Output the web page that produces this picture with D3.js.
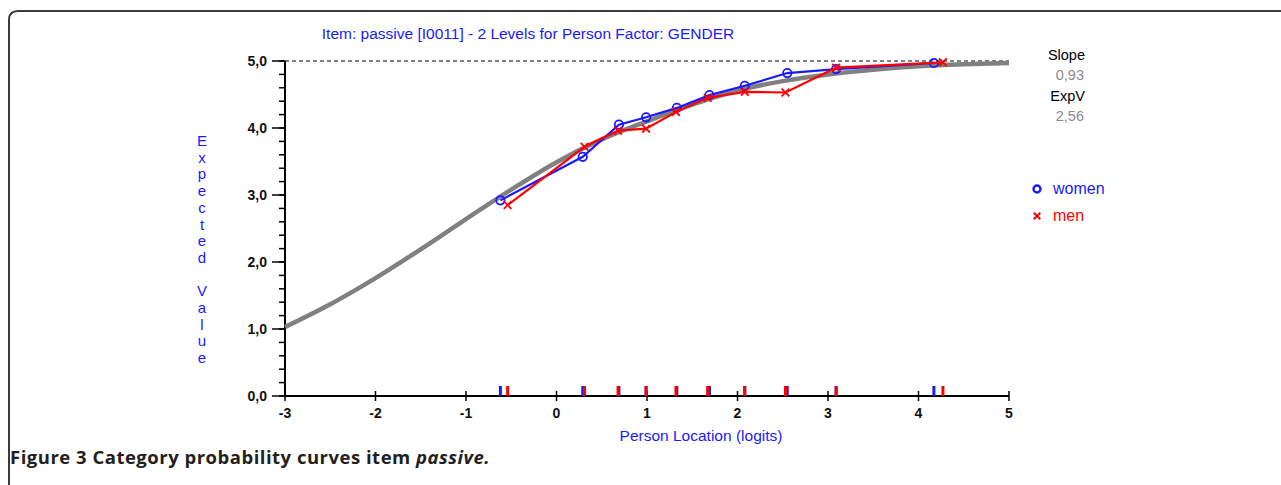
<!DOCTYPE html>
<html>
<head>
<meta charset="utf-8">
<script src="https://cdn.jsdelivr.net/npm/d3@7"></script>
<style>
  body { margin: 0; background: #fff; }
  svg { display: block; font-family: "Liberation Sans", Arial, sans-serif; }
</style>
</head>
<body>
<svg id="chart" width="1281" height="485"></svg>
<script>
// expected value curve (model)
const curveLoc = [-3, -2.5, -2, -1.5, -1, -0.5, 0, 0.5, 1, 1.5, 2, 2.5, 3, 3.5, 4, 4.5, 5];
const curveVal = [1.03, 1.37, 1.76, 2.19, 2.64, 3.08, 3.49, 3.83, 4.1, 4.35, 4.56, 4.7, 4.8, 4.87, 4.92, 4.95, 4.97];

// observed class interval means
const womenLoc = [-0.62, 0.29, 0.69, 0.99, 1.33, 1.69, 2.08, 2.55, 3.09, 4.17];
const womenVal = [2.92, 3.57, 4.05, 4.16, 4.3, 4.49, 4.63, 4.82, 4.88, 4.97];
const menLoc = [-0.54, 0.31, 0.68, 0.99, 1.32, 1.67, 2.08, 2.53, 3.09, 4.27];
const menVal = [2.85, 3.72, 3.96, 3.99, 4.24, 4.45, 4.54, 4.53, 4.9, 4.98];

const xTicks = [-3, -2, -1, 0, 1, 2, 3, 4, 5];
const yTicks = [0, 1, 2, 3, 4, 5];
const groups = ["women", "men"];
const stats = [["Slope", "0,93"], ["ExpV", "2,56"]];

const blue = "#1a1aff", red = "#ff0000", grey = "#808080";

const svg = d3.select("#chart");

// frame (only top and left edges visible)
svg.append("path")
    .attr("d", "M9,485 V20 Q9,11 18,11 H1281")
    .attr("fill", "none")
    .attr("stroke", "#3a3a3a")
    .attr("stroke-width", 2);

const x = d3.scaleLinear().domain([-3, 5]).range([285, 1009]);
const y = d3.scaleLinear().domain([0, 5]).range([396, 61]);

// title
svg.append("text")
    .attr("x", 528).attr("y", 39)
    .attr("text-anchor", "middle")
    .attr("fill", blue)
    .style("font-size", "15.5px")
    .text("Item: passive [I0011] - 2 Levels for Person Factor: GENDER");

// dashed line at max
svg.append("line")
    .attr("x1", x(-3)).attr("x2", x(5))
    .attr("y1", y(5)).attr("y2", y(5))
    .attr("stroke", "#000")
    .attr("stroke-dasharray", "4,3");

// y axis with minor ticks
const yMinor = d3.range(0, 5.01, 0.2);
const yAxis = svg.append("g");
yAxis.append("line")
    .attr("x1", x(-3)).attr("x2", x(-3))
    .attr("y1", y(0)).attr("y2", y(5))
    .attr("stroke", "#000").attr("stroke-width", 2);
yAxis.selectAll(".minor")
    .data(yMinor)
    .enter().append("line")
    .attr("x1", x(-3) - 6).attr("x2", x(-3))
    .attr("y1", d => y(d)).attr("y2", d => y(d))
    .attr("stroke", "#000").attr("stroke-width", 1.5);
yAxis.selectAll(".major")
    .data(yTicks)
    .enter().append("line")
    .attr("x1", x(-3) - 13).attr("x2", x(-3))
    .attr("y1", d => y(d)).attr("y2", d => y(d))
    .attr("stroke", "#000").attr("stroke-width", 1.5);
yAxis.selectAll("text")
    .data(yTicks)
    .enter().append("text")
    .attr("x", 267)
    .attr("y", d => y(d) + 5)
    .attr("text-anchor", "end")
    .style("font-size", "14px")
    .style("font-weight", "bold")
    .attr("fill", "#111")
    .text(d => d.toFixed(1).replace(".", ","));

// x axis
const xAxis = svg.append("g");
xAxis.append("line")
    .attr("x1", x(-3)).attr("x2", x(5))
    .attr("y1", y(0)).attr("y2", y(0))
    .attr("stroke", "#000").attr("stroke-width", 2);
xAxis.selectAll(".tick")
    .data(xTicks)
    .enter().append("line")
    .attr("x1", d => x(d)).attr("x2", d => x(d))
    .attr("y1", y(0) - 5).attr("y2", y(0) + 5)
    .attr("stroke", "#000").attr("stroke-width", 1.5);
xAxis.selectAll("text")
    .data(xTicks)
    .enter().append("text")
    .attr("x", d => x(d))
    .attr("y", y(0) + 22)
    .attr("text-anchor", "middle")
    .style("font-size", "14px")
    .style("font-weight", "bold")
    .attr("fill", "#111")
    .text(d => d);

svg.append("text")
    .attr("x", 701).attr("y", 441)
    .attr("text-anchor", "middle")
    .attr("fill", blue)
    .style("font-size", "15.5px")
    .text("Person Location (logits)");

// vertical y label, one letter per row
const yLabel = "Expected Value".split("");
svg.append("g").selectAll("text")
    .data(yLabel)
    .enter().append("text")
    .attr("x", 202)
    .attr("y", (d, i) => 146 + i * 16.7)
    .attr("text-anchor", "middle")
    .attr("fill", blue)
    .style("font-size", "15px")
    .text(d => d);

// rug of class interval locations
svg.append("g").selectAll("line")
    .data(womenLoc)
    .enter().append("line")
    .attr("x1", d => x(d)).attr("x2", d => x(d))
    .attr("y1", y(0) - 10).attr("y2", y(0))
    .attr("stroke", blue).attr("stroke-width", 3);
svg.append("g").selectAll("line")
    .data(menLoc)
    .enter().append("line")
    .attr("x1", d => x(d)).attr("x2", d => x(d))
    .attr("y1", y(0) - 10).attr("y2", y(0))
    .attr("stroke", red).attr("stroke-width", 3);

// model curve
const line = d3.line().x(d => x(d[0])).y(d => y(d[1]));
svg.append("path")
    .datum(d3.zip(curveLoc, curveVal))
    .attr("d", line.curve(d3.curveCatmullRom))
    .attr("fill", "none")
    .attr("stroke", grey)
    .attr("stroke-width", 4.5);

const straight = d3.line().x(d => x(d[0])).y(d => y(d[1]));

// women
const women = d3.zip(womenLoc, womenVal);
svg.append("path")
    .datum(women)
    .attr("d", straight)
    .attr("fill", "none")
    .attr("stroke", blue)
    .attr("stroke-width", 2.2);
svg.append("g").selectAll("circle")
    .data(women)
    .enter().append("circle")
    .attr("cx", d => x(d[0])).attr("cy", d => y(d[1]))
    .attr("r", 4.2)
    .attr("fill", "none")
    .attr("stroke", blue)
    .attr("stroke-width", 1.8);

// men
const men = d3.zip(menLoc, menVal);
svg.append("path")
    .datum(men)
    .attr("d", straight)
    .attr("fill", "none")
    .attr("stroke", red)
    .attr("stroke-width", 2.2);
const cross = d3.symbol().type(d3.symbolX).size(40);
svg.append("g").selectAll("path")
    .data(men)
    .enter().append("path")
    .attr("transform", d => `translate(${x(d[0])},${y(d[1])})`)
    .attr("d", cross)
    .attr("fill", "none")
    .attr("stroke", red)
    .attr("stroke-width", 1.8);

// slope / expv
stats.forEach((s, i) => {
    svg.append("text")
        .attr("x", 1085).attr("y", 60 + i * 41)
        .attr("text-anchor", "end")
        .style("font-size", "14.5px")
        .attr("fill", "#000")
        .text(s[0]);
    svg.append("text")
        .attr("x", 1084).attr("y", 80 + i * 41)
        .attr("text-anchor", "end")
        .style("font-size", "14.5px")
        .attr("fill", "#8a8a8a")
        .text(s[1]);
});

// legend
const legend = svg.append("g");
legend.append("circle")
    .attr("cx", 1037).attr("cy", 189)
    .attr("r", 3.5)
    .attr("fill", "none").attr("stroke", blue).attr("stroke-width", 2.4);
legend.append("path")
    .attr("transform", "translate(1037,216)")
    .attr("d", d3.symbol().type(d3.symbolX).size(30))
    .attr("fill", "none").attr("stroke", red).attr("stroke-width", 2);
legend.selectAll("text")
    .data(groups)
    .enter().append("text")
    .attr("x", 1053)
    .attr("y", (d, i) => 194 + i * 27)
    .attr("fill", (d, i) => i === 0 ? blue : red)
    .style("font-size", "16px")
    .text(d => d);

// figure caption
const cap = svg.append("text")
    .attr("x", 10).attr("y", 464)
    .style("font-family", "'Open Sans', 'Noto Sans', sans-serif")
    .style("font-size", "18.5px")
    .style("font-weight", "bold")
    .style("letter-spacing", "0.5px")
    .attr("fill", "#231f20");
cap.append("tspan").text("Figure 3 Category probability curves item ");
cap.append("tspan").style("font-style", "italic").text("passive.");
</script>
</body>
</html>
